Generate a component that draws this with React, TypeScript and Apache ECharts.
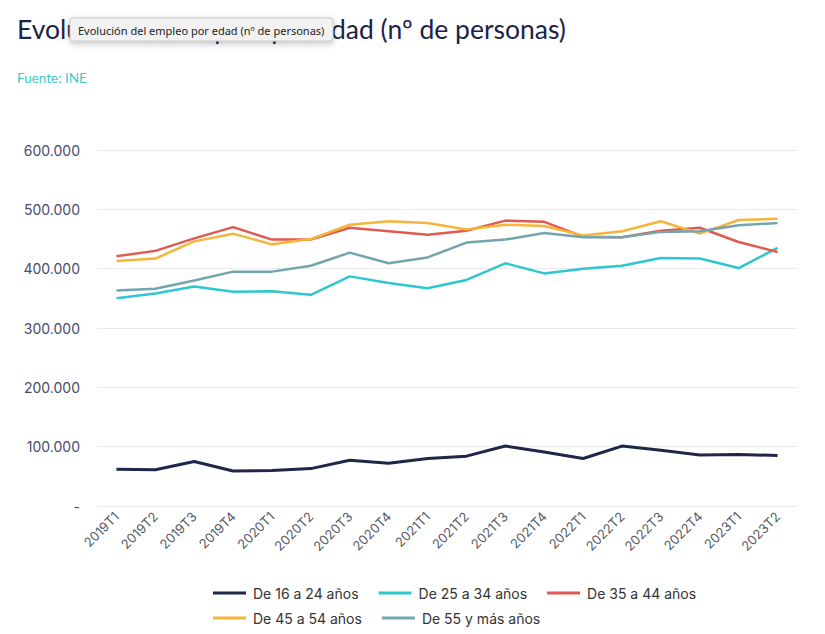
import React, { useEffect, useRef } from "react";
import * as echarts from "echarts";

const categories = [
  "2019T1", "2019T2", "2019T3", "2019T4",
  "2020T1", "2020T2", "2020T3", "2020T4",
  "2021T1", "2021T2", "2021T3", "2021T4",
  "2022T1", "2022T2", "2022T3", "2022T4",
  "2023T1", "2023T2",
];

const age16to24 = [62000, 61000, 75000, 59000, 60000, 63000, 77000, 72000, 80000, 84000, 101000, 91000, 80000, 101000, 94000, 86000, 87000, 85000];
const age25to34 = [350000, 358000, 370000, 361000, 362000, 356000, 387000, 376000, 367000, 381000, 409000, 392000, 400000, 405000, 418000, 417000, 401000, 435000];
const age35to44 = [421000, 430000, 451000, 470000, 449000, 449000, 469000, 463000, 457000, 464000, 481000, 479000, 454000, 453000, 464000, 469000, 445000, 428000];
const age45to54 = [413000, 417000, 446000, 459000, 441000, 450000, 474000, 480000, 477000, 466000, 474000, 472000, 456000, 463000, 480000, 459000, 482000, 484000];
const age55plus = [363000, 366000, 380000, 395000, 395000, 405000, 427000, 409000, 419000, 444000, 449000, 460000, 453000, 453000, 462000, 463000, 473000, 477000];

const seriesNames = ["De 16 a 24 años", "De 25 a 34 años", "De 35 a 44 años", "De 45 a 54 años", "De 55 y más años"];
const seriesColors = ["#1e2749", "#2ec6cf", "#df5a50", "#f5b53a", "#72a5ad"];
const seriesData = [age16to24, age25to34, age35to44, age45to54, age55plus];

const titleText = "Evolución del empleo por edad (nº de personas)";
const sourceText = "Fuente: INE";

const FONT = "Inter, 'Noto Sans', sans-serif";
const TITLE_FONT = "Lato, 'Noto Sans', sans-serif";

export default function App() {
  const ref = useRef<HTMLDivElement>(null);

  useEffect(() => {
    document.body.style.margin = "0";
    if (!ref.current) return;
    const chart = echarts.init(ref.current, null, { renderer: "svg" });
    const legendCommon = {
      left: 208,
      icon: "rect",
      itemWidth: 33,
      itemHeight: 3,
      itemGap: 20,
      textStyle: { fontSize: 14, color: "#333333", fontFamily: FONT, padding: [0, 0, 0, 2] },
    };
    chart.setOption({
      animation: false,
      backgroundColor: "#ffffff",
      textStyle: { fontFamily: FONT },
      title: [
        {
          text: titleText,
          left: 12,
          top: 10,
          textStyle: { fontSize: 26.5, fontWeight: 400, color: "#1b2447", fontFamily: TITLE_FONT },
        },
        {
          text: sourceText,
          left: 12,
          top: 66,
          textStyle: { fontSize: 13.5, fontWeight: 400, color: "#3cc9cc", fontFamily: TITLE_FONT },
        },
      ],
      grid: { left: 97, right: 28, top: 150, bottom: 128, containLabel: false },
      legend: [
        { ...legendCommon, top: 581, data: seriesNames.slice(0, 3) },
        { ...legendCommon, top: 606, data: seriesNames.slice(3) },
      ],
      xAxis: {
        type: "category",
        data: categories,
        boundaryGap: true,
        axisLine: { show: false },
        axisTick: { show: false },
        axisLabel: { rotate: 45, fontSize: 13, color: "#555a66", margin: 8, fontFamily: FONT },
      },
      yAxis: {
        type: "value",
        min: 0,
        max: 600000,
        interval: 100000,
        axisLine: { show: false },
        axisTick: { show: false },
        splitLine: { lineStyle: { color: "#ebebeb", width: 1 } },
        axisLabel: {
          fontSize: 14,
          color: "#474c68",
          margin: 17,
          fontFamily: FONT,
          formatter: (v: number) => (v === 0 ? "-" : v.toLocaleString("de-DE")),
        },
      },
      graphic: [
        {
          type: "rect",
          shape: { x: 70, y: 18, width: 263, height: 23, r: 3 },
          style: { fill: "#f2f2f2", stroke: "#c8c8c8", lineWidth: 1, shadowBlur: 6, shadowColor: "rgba(0,0,0,0.25)", shadowOffsetY: 2 },
          z: 100,
        },
        {
          type: "text",
          x: 78,
          y: 30,
          style: { text: titleText, fontSize: 11, fill: "#222222", fontFamily: "'Noto Sans', sans-serif", textVerticalAlign: "middle" },
          z: 101,
        },
      ],
      series: seriesNames.map((name, i) => ({
        name,
        type: "line",
        data: seriesData[i],
        showSymbol: false,
        symbol: "none",
        color: seriesColors[i],
        lineStyle: { width: i === 0 ? 3 : 2.5, color: seriesColors[i] },
      })),
    });
    return () => chart.dispose();
  }, []);

  return <div ref={ref} style={{ width: 825, height: 634 }} />;
}
